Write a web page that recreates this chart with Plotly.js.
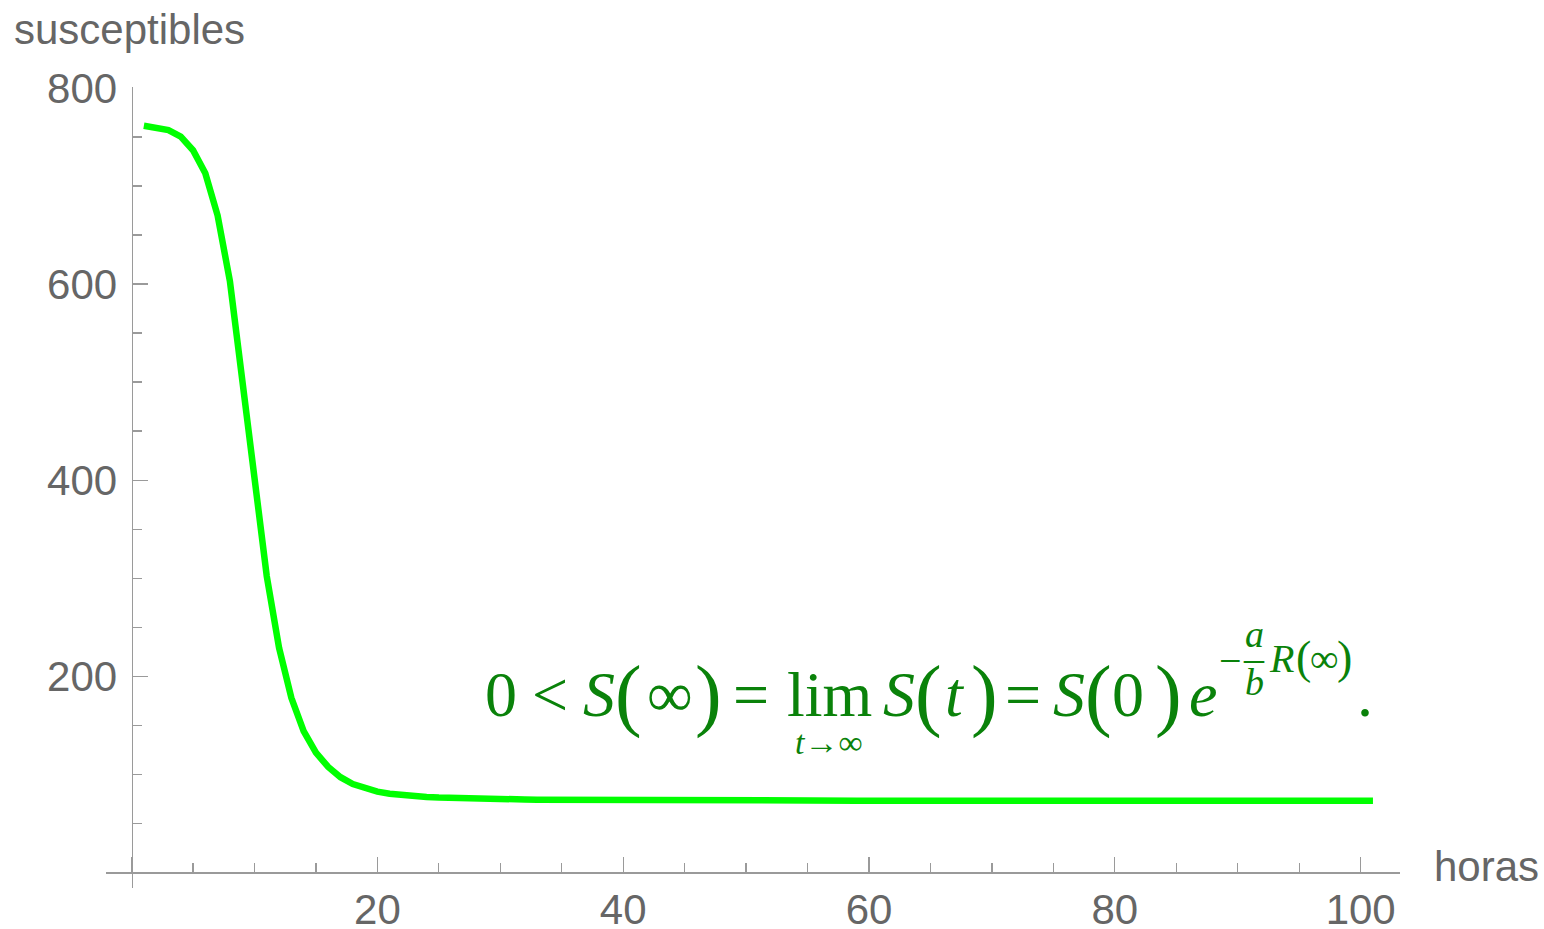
<!DOCTYPE html>
<html>
<head>
<meta charset="utf-8">
<script src="https://cdn.plot.ly/plotly-3.0.1.min.js"></script>
<style>
  html, body { margin: 0; padding: 0; background: #fff; }
  #chart { width: 1544px; height: 929px; }
</style>
</head>
<body>
<div id="chart"></div>
<script>
// ---- data ----
var hours = [
  1, 2, 3, 4, 5, 6, 7, 8, 9, 10,
  11, 12, 13, 14, 15, 16, 17, 18, 19, 20,
  21, 22, 23, 24, 25, 26, 27, 28, 29, 30,
  31, 32, 33, 34, 35, 36, 37, 38, 39, 40,
  41, 42, 43, 44, 45, 46, 47, 48, 49, 50,
  51, 52, 53, 54, 55, 56, 57, 58, 59, 60,
  61, 62, 63, 64, 65, 66, 67, 68, 69, 70,
  71, 72, 73, 74, 75, 76, 77, 78, 79, 80,
  81, 82, 83, 84, 85, 86, 87, 88, 89, 90,
  91, 92, 93, 94, 95, 96, 97, 98, 99, 100,
  101
];
var susceptibles = [
  761.5, 760, 757, 750.5, 736.5, 713, 670, 603, 502, 392,
  302, 229, 178, 144, 122, 107.5, 97, 90, 85.5, 82.3,
  80.2, 78.7, 77.6, 76.8, 76.2, 75.7, 75.3, 75.0, 74.8, 74.6,
  74.4, 74.3, 74.1, 74.0, 73.9, 73.8, 73.7, 73.7, 73.6, 73.6,
  73.5, 73.5, 73.4, 73.4, 73.4, 73.3, 73.3, 73.3, 73.3, 73.2,
  73.2, 73.2, 73.2, 73.2, 73.2, 73.2, 73.1, 73.1, 73.1, 73.1,
  73.1, 73.1, 73.1, 73.1, 73.1, 73.1, 73.1, 73.0, 73.0, 73.0,
  73.0, 73.0, 73.0, 73.0, 73.0, 73.0, 73.0, 73.0, 73.0, 73.0,
  73.0, 73.0, 73.0, 73.0, 73.0, 73.0, 73.0, 73.0, 73.0, 73.0,
  73.0, 73.0, 73.0, 73.0, 73.0, 73.0, 73.0, 73.0, 73.0, 73.0,
  73.0
];
var xTickVals = [0, 20, 40, 60, 80, 100];
var xTickText = ['', '20', '40', '60', '80', '100'];
var yTickVals = [0, 200, 400, 600, 800];
var yTickText = ['', '200', '400', '600', '800'];
var xTitle = 'horas';
var yTitle = 'susceptibles';

// formula pieces: [text, centre x px, centre y px, font size]
var formulaPieces = [
  ['0', 501, 694, 64],
  ['<', 550, 694, 64],
  ['<i>S</i>', 599, 694, 64],
  ['(', 628, 694, 80],
  ['∞', 670, 694, 64],
  [')', 708, 694, 80],
  ['=', 751, 694, 64],
  ['lim', 829, 694, 64],
  ['<i>t</i>→∞', 829, 742, 34],
  ['<i>S</i>', 899, 694, 64],
  ['(', 928, 694, 80],
  ['<i>t</i>', 955, 694, 64],
  [')', 984, 694, 80],
  ['=', 1023, 694, 64],
  ['<i>S</i>', 1069, 694, 64],
  ['(', 1098, 694, 80],
  ['0', 1128, 694, 64],
  [')', 1168, 694, 80],
  ['<i>e</i>', 1203, 694, 64],
  ['−', 1230, 660, 40],
  ['<i>a</i>', 1254, 634, 38],
  ['–', 1254, 657, 40],
  ['<i>b</i>', 1254, 682, 38],
  ['<i>R</i>', 1281, 658, 40],
  ['(', 1303, 657, 46],
  ['∞', 1324, 658, 40],
  [')', 1344, 657, 46],
  ['.', 1365, 694, 64]
];

// ---- layout geometry ----
var W = 1544, H = 929;
var M = { l: 106, r: 144, t: 87, b: 41 };
var xRange = [-2.08, 103.2];
var yRange = [-16, 801];
var plotW = W - M.l - M.r, plotH = H - M.t - M.b;
function px2paperX(px) { return (px - M.l) / plotW; }
function px2paperY(py) { return (H - M.b - py) / plotH; }

var axisGray = '#9a9a9a';
var labelGray = '#666666';
var sans = 'Liberation Sans, Arial, sans-serif';
var serif = 'Liberation Serif, Times New Roman, serif';
var formulaGreen = '#0a820a';
var labelSize = 42;

var trace = {
  x: hours,
  y: susceptibles,
  type: 'scatter',
  mode: 'lines',
  line: { color: '#00ff00', width: 6.5 },
  hoverinfo: 'skip'
};

var annotations = [
  {
    text: yTitle, xref: 'paper', yref: 'paper',
    x: px2paperX(12), y: px2paperY(29), xanchor: 'left', yanchor: 'middle',
    showarrow: false, font: { family: sans, size: labelSize, color: labelGray }
  },
  {
    text: xTitle, xref: 'paper', yref: 'paper',
    x: px2paperX(1432), y: px2paperY(866), xanchor: 'left', yanchor: 'middle',
    showarrow: false, font: { family: sans, size: labelSize, color: labelGray }
  }
];
formulaPieces.forEach(function (p) {
  annotations.push({
    text: p[0], xref: 'paper', yref: 'paper',
    x: px2paperX(p[1]), y: px2paperY(p[2]),
    xanchor: 'center', yanchor: 'middle', showarrow: false,
    font: { family: serif, size: p[3], color: formulaGreen }
  });
});

var layout = {
  width: W, height: H,
  margin: M,
  paper_bgcolor: '#ffffff',
  plot_bgcolor: '#ffffff',
  showlegend: false,
  hovermode: false,
  font: { family: sans, size: labelSize, color: labelGray },
  xaxis: {
    range: xRange,
    anchor: 'free',
    position: (0 - yRange[0]) / (yRange[1] - yRange[0]),
    showline: true, linecolor: axisGray, linewidth: 1.3,
    showgrid: false, zeroline: false,
    ticks: 'inside', ticklen: 15, tickwidth: 1.3, tickcolor: axisGray,
    tickmode: 'array', tickvals: xTickVals, ticktext: xTickText,
    ticklabelstandoff: 0,
    tickfont: { family: sans, size: labelSize, color: labelGray },
    minor: { tickmode: 'linear', tick0: 0, dtick: 5, ticks: 'inside', ticklen: 9,
             tickwidth: 1.3, tickcolor: axisGray, showgrid: false },
    automargin: false, fixedrange: true
  },
  yaxis: {
    range: yRange,
    anchor: 'free',
    position: (0 - xRange[0]) / (xRange[1] - xRange[0]),
    showline: true, linecolor: axisGray, linewidth: 1.3,
    showgrid: false, zeroline: false,
    ticks: 'inside', ticklen: 15, tickwidth: 1.3, tickcolor: axisGray,
    tickmode: 'array', tickvals: yTickVals, ticktext: yTickText,
    ticklabelstandoff: 6,
    tickfont: { family: sans, size: labelSize, color: labelGray },
    minor: { tickmode: 'linear', tick0: 0, dtick: 50, ticks: 'inside', ticklen: 9,
             tickwidth: 1.3, tickcolor: axisGray, showgrid: false },
    automargin: false, fixedrange: true
  },
  annotations: annotations
};

Plotly.newPlot('chart', [trace], layout, { displayModeBar: false, staticPlot: true });
</script>
</body>
</html>
